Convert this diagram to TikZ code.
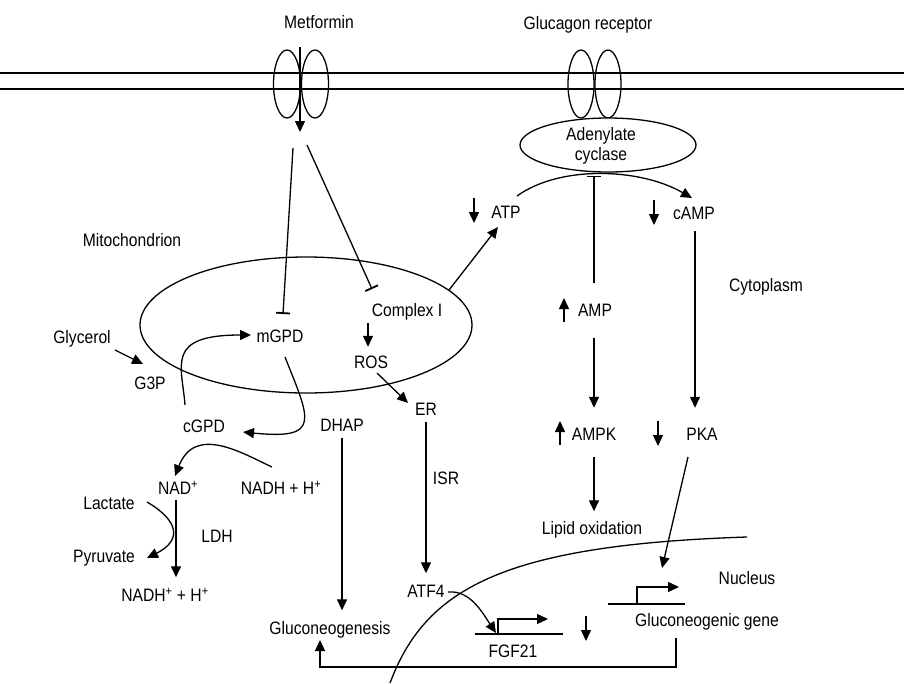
\documentclass[tikz,border=0pt]{standalone}
\usepackage{fontspec}
\setmainfont{Liberation Sans}[FakeStretch=0.87]
\usetikzlibrary{arrows.meta}
\begin{document}
\begin{tikzpicture}[x=1pt,y=-1pt,
  every node/.style={font=\fontsize{18}{20}\selectfont, inner sep=1pt, text height=13pt, text depth=4pt},
  ln/.style={line width=1.3pt},
  arr/.style={ln,-{Triangle[length=11pt,width=10pt]}},
  inh/.style={ln,-{Bar[width=14pt,line width=1.8pt]}},
  memb/.style={ln},
]
\useasboundingbox (0,0) rectangle (904,683);
% membrane
\draw[memb] (0,73) -- (904,73);
\draw[memb] (0,89) -- (904,89);
% channels
\draw[ln] (287,84) ellipse [x radius=13.5, y radius=34];
\draw[ln] (315,84) ellipse [x radius=13.5, y radius=34];
\draw[ln] (581,84) ellipse [x radius=13, y radius=34];
\draw[ln] (608,84) ellipse [x radius=13, y radius=34];
% adenylate cyclase
\draw[ln, fill=white] (608,145) ellipse [x radius=88, y radius=27];
\node[align=center, text height=, text depth=] (adc) at (601,146) {Adenylate\\[0pt]cyclase};
% mitochondrion
\draw[ln] (306,325) ellipse [x radius=166, y radius=68];

% labels
\node (metf) at (319,24) {Metformin};
\node (glur) at (588,25) {Glucagon receptor};
\node (mito) at (132,242) {Mitochondrion};
\node (cyto) at (766,287) {Cytoplasm};
\node (nucl) at (747,580) {Nucleus};
\node (atp) at (506,214) {ATP};
\node (camp) at (694,215) {cAMP};
\node (amp) at (595,312) {AMP};
\node (cI) at (407,312) {Complex I};
\node (ros) at (371,364) {ROS};
\node (mgpd) at (280,338) {mGPD};
\node (glyc) at (82,339) {Glycerol};
\node (g3p) at (150,385) {G3P};
\node (cgpd) at (204,428) {cGPD};
\node (dhap) at (342,427) {DHAP};
\node (er) at (426,411) {ER};
\node (nad) at (178,490) {NAD\textsuperscript{+}};
\node (nadh) at (281,490) {NADH + H\textsuperscript{+}};
\node (lact) at (109,505) {Lactate};
\node (pyr) at (104,558) {Pyruvate};
\node (ldh) at (217,538) {LDH};
\node (nadh2) at (165,597) {NADH\textsuperscript{+} + H\textsuperscript{+}};
\node (isr) at (446,480) {ISR};
\node (atf4) at (426,593) {ATF4};
\node (ampk) at (594,436) {AMPK};
\node (pka) at (702,436) {PKA};
\node (lipid) at (592,530) {Lipid oxidation};
\node (glcn) at (330,630) {Gluconeogenesis};
\node (fgf) at (513,653) {FGF21};
\node (gene) at (707,622) {Gluconeogenic gene};

% metformin entry
\coordinate (mtop) at (300,47);
\coordinate (mbot) at (300,132);
\draw[arr] (mtop) -- (mbot);
% metformin inhibitions
\coordinate (l1) at (293,148);
\coordinate (l2) at (307,145);
\draw[inh] (l1) -- ([xshift=3pt]mgpd.north |- 0,314);
\draw[inh] (l2) -- (372,289);

% complex I -> ROS
\draw[arr, shorten <=1.5pt, shorten >=7.5pt] ([xshift=-3pt]ros.north |- cI.south) -- ([xshift=-3pt]ros.north);
% ROS -> ER
\draw[arr] (377,373) -- (408,403);
% complex I -> ATP
\draw[arr] (449,290) -- (498,227);
% ATP -> cAMP arc
\draw[arr] (517,196) .. controls (560,165) and (640,168) .. (692,198);
% AMP -| adenylate
\draw[inh, shorten <=19.5pt, shorten >=10pt] ([xshift=-1pt]amp.north) -- ([xshift=-1pt]amp.north |- adc.south);
% indicators
\draw[arr] (474,198) -- (474,223);
\draw[arr] (654,200) -- (654,225);
\draw[arr] (564,322) -- (564,298);
\draw[arr] (560,445) -- (560,421);
\draw[arr] (658,421) -- (658,446);
\draw[arr] (586,616) -- (586,641);
% vertical pathways
\draw[arr, shorten <=16pt, shorten >=18.5pt] ([xshift=-1pt]amp.south) -- ([xshift=-1pt]amp.south |- ampk.north);
\draw[arr, shorten <=6pt, shorten >=18.5pt] ([xshift=1pt]camp.south) -- ([xshift=1pt]camp.south |- pka.north);
\draw[arr, shorten <=11pt, shorten >=9pt] (ampk.south) -- (ampk.south |- lipid.north);
\draw[arr, shorten <=1.5pt, shorten >=10pt] (er.south) -- (atf4.north);
\draw[arr, shorten <=1.5pt, shorten >=10pt] (dhap.south) -- (dhap.south |- glcn.north);
\draw[arr, shorten <=0pt, shorten >=10pt] ([xshift=-2pt]nad.south) -- ([xshift=-2pt]nad.south |- nadh2.north);
% glycerol -> G3P
\draw[arr] (115,350) -- (143,364);
% cGPD -> mGPD
\draw[arr] (185,405) .. controls (182,365) and (165,335) .. (251,335);
% mGPD -> cGPD
\draw[arr] (285,357) .. controls (310,420) and (322,440) .. (243,432);
% NADH -> NAD
\draw[arr] (272,467) .. controls (240,452) and (195,425) .. (175,476);
% lactate -> pyruvate
\draw[arr] (147,502) .. controls (178,520) and (183,540) .. (147,558);
% PKA -> gene
\draw[arr] (688,457) -- (662,568);
% ATF4 -> FGF21
\draw[arr] (448,592) .. controls (470,590) and (482,612) .. (496,633);
% nucleus envelope
\draw[ln] (390,683) .. controls (425,590) and (500,545) .. (747,537);
% genes
\draw[ln] (475,634) -- (563,634);
\draw[arr] (498,634) -- (498,619) -- (548,619);
\draw[ln] (608,604) -- (685,604);
\draw[arr] (637,604) -- (637,587) -- (679,587);
% feedback bracket
\draw[arr] (676,638) -- (676,667) -- (320,667) -- (320,640);
\end{tikzpicture}
\end{document}
